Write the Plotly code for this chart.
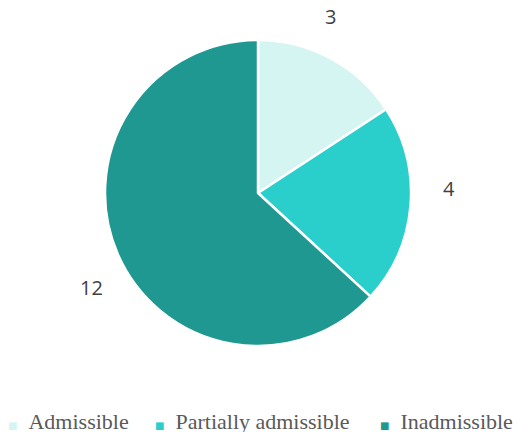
import math
import plotly.graph_objects as go

categories = ["Admissible", "Partially admissible", "Inadmissible"]
values = [3, 4, 12]
colors = ["#d5f5f3", "#2acfcb", "#1f9892"]

W, H = 518, 432
dom_x = [105 / W, 411 / W]
dom_y = [1 - 346 / H, 1 - 40 / H]

fig = go.Figure(go.Pie(
    labels=categories,
    values=values,
    sort=False,
    direction="clockwise",
    rotation=0,
    marker=dict(colors=colors, line=dict(color="white", width=2.5)),
    textinfo="none",
    hoverinfo="label+value",
    domain=dict(x=dom_x, y=dom_y),
    showlegend=False,
))

# data labels placed outside each slice, from slice mid-angles
cx = (dom_x[0] + dom_x[1]) / 2 * W
cy = (1 - (dom_y[0] + dom_y[1]) / 2) * H
R = min((dom_x[1] - dom_x[0]) * W, (dom_y[1] - dom_y[0]) * H) / 2
total = sum(values)
cum = 0
for v in values:
    mid = (cum + v / 2) / total * 360 - 6
    cum += v
    r = R * 1.25
    px = cx + r * math.sin(math.radians(mid))
    py = cy - r * math.cos(math.radians(mid))
    fig.add_annotation(x=px / W, y=1 - py / H, xref="paper", yref="paper",
                       xanchor="center", yanchor="middle",
                       text=str(v), showarrow=False,
                       font=dict(family="Open Sans", size=20, color="#404040"))

# legend row (key square + label) at the bottom
legend_x = [6, 153, 378]
for name, col, lx in zip(categories, colors, legend_x):
    fig.add_annotation(
        x=lx / W, y=-4 / H, xref="paper", yref="paper",
        xanchor="left", yanchor="bottom", showarrow=False,
        text=f'<span style="color:{col};font-size:10px;font-family:DejaVu Sans">■</span>&nbsp;&nbsp;{name}',
        font=dict(family="Liberation Serif", size=22, color="#595959"),
    )

fig.update_layout(
    width=W, height=H,
    margin=dict(l=0, r=0, t=0, b=0, autoexpand=False),
    paper_bgcolor="white",
    plot_bgcolor="white",
    showlegend=False,
)

fig.write_html("out.html")
